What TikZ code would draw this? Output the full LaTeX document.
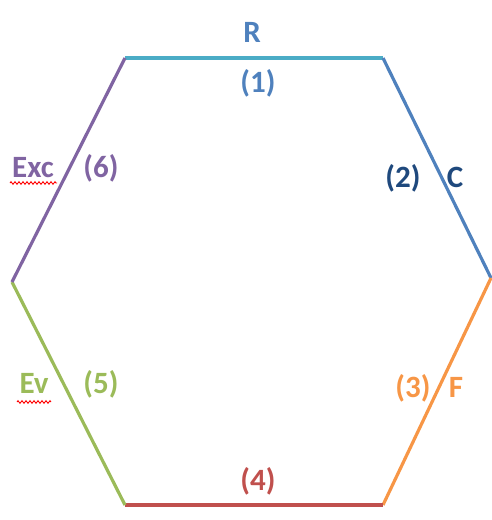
\documentclass[tikz,border=0pt]{standalone}
\usepackage{fontspec}
\setmainfont{Carlito}
\usetikzlibrary{decorations.pathmorphing}
\definecolor{cR}{HTML}{4BACC6}
\definecolor{cC}{HTML}{4F81BD}
\definecolor{cF}{HTML}{F79646}
\definecolor{cD}{HTML}{C0504D}
\definecolor{cEv}{HTML}{9BBB59}
\definecolor{cExc}{HTML}{8064A2}
\definecolor{navy}{HTML}{1F497D}
\tikzset{edge/.style={line width=3.2pt},
lbl/.style={font=\bfseries\fontsize{31}{36}\selectfont, inner sep=0pt, anchor=base},
squig/.style={draw=red, line width=0.9pt, decorate, decoration={zigzag, amplitude=1.3pt, segment length=4pt}}}
\begin{document}
\begin{tikzpicture}[x=1pt,y=-1pt]
\useasboundingbox (0,0) rectangle (492,520);
\coordinate (tl) at (125,58);
\coordinate (tr) at (383,58);
\coordinate (r) at (491,278);
\coordinate (br) at (383,505);
\coordinate (bl) at (125,505);
\coordinate (l) at (12,282);
\draw[edge, cR] (tl) -- (tr);
\draw[edge, cC] (tr) -- (r);
\draw[edge, cF] (r) -- (br);
\draw[edge, cD] (br) -- (bl);
\draw[edge, cEv] (bl) -- (l);
\draw[edge, cExc] (l) -- (tl);
\node[lbl, text=cC] (R) at (252,42) {R};
\node[lbl, text=cC] (n1) at (258,92) {(1)};
\node[lbl, text=navy] (n2) at (403,187) {(2)};
\node[lbl, text=navy] (C) at (455,187) {C};
\node[lbl, text=cF] (n3) at (413,397) {(3)};
\node[lbl, text=cF] (F) at (456,397) {F};
\node[lbl, text=cD] (n4) at (258,490) {(4)};
\node[lbl, text=cEv] (n5) at (101,393) {(5)};
\node[lbl, text=cEv] (Ev) at (34,393) {Ev};
\node[lbl, text=cExc] (n6) at (101,177) {(6)};
\node[lbl, text=cExc] (Exc) at (33,177) {Exc};
\coordinate (e1) at (10,183);
\coordinate (e2) at (57,183);
\coordinate (v1) at (17,402);
\coordinate (v2) at (51,402);
\path[squig] (e1) -- (e2);
\path[squig] (v1) -- (v2);
\end{tikzpicture}
\end{document}
